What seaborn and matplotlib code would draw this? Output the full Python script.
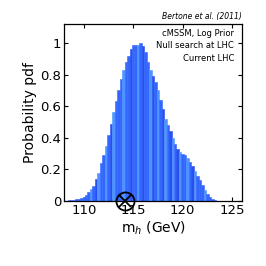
import numpy as np
import pandas as pd
import seaborn as sns
import matplotlib
matplotlib.use('Agg')
import matplotlib.pyplot as plt

# Higgs mass bins (GeV) and normalised posterior pdf
mh = [108.5, 108.75, 109.0, 109.25, 109.5, 109.75, 110.0, 110.25, 110.5, 110.75,
      111.0, 111.25, 111.5, 111.75, 112.0, 112.25, 112.5, 112.75, 113.0, 113.25,
      113.5, 113.75, 114.0, 114.25, 114.5, 114.75, 115.0, 115.25, 115.5, 115.75,
      116.0, 116.25, 116.5, 116.75, 117.0, 117.25, 117.5, 117.75, 118.0, 118.25,
      118.5, 118.75, 119.0, 119.25, 119.5, 119.75, 120.0, 120.25, 120.5, 120.75,
      121.0, 121.25, 121.5, 121.75, 122.0, 122.25, 122.5, 122.75, 123.0, 123.25,
      123.5, 123.75]
pdf = [0.005, 0.006, 0.008, 0.010, 0.014, 0.020, 0.028, 0.040, 0.055, 0.075,
       0.095, 0.14, 0.18, 0.24, 0.29, 0.35, 0.42, 0.49, 0.56, 0.63,
       0.70, 0.77, 0.83, 0.88, 0.92, 0.96, 0.99, 0.99, 0.99, 1.00,
       0.98, 0.94, 0.88, 0.83, 0.79, 0.75, 0.70, 0.64, 0.58, 0.52,
       0.48, 0.44, 0.40, 0.36, 0.33, 0.31, 0.30, 0.29, 0.27, 0.245,
       0.22, 0.19, 0.16, 0.13, 0.10, 0.07, 0.045, 0.028, 0.015, 0.007,
       0.003, 0.001]

# stripes seen in the fill (bin centres)
light_bins = [110.75, 111.5, 112.25, 113.0, 114.0, 115.5, 116.75, 117.5, 118.25,
              119.0, 119.75, 120.5, 121.25, 122.25]
dark_bins = [111.25, 112.75, 114.75, 116.0, 117.0, 118.0, 118.75, 119.5, 121.0]

lep_limit = 114.2

df = pd.DataFrame({'mh': mh, 'pdf': pdf})

sns.set_style('ticks')
plt.rcParams['font.family'] = ['DejaVu Sans']
plt.rcParams['text.color'] = 'black'
plt.rcParams['axes.labelcolor'] = 'black'
plt.rcParams['xtick.color'] = 'black'
plt.rcParams['ytick.color'] = 'black'

fig = plt.figure(figsize=(2.66, 2.66), dpi=100)
ax = fig.add_axes([0.2406, 0.2444, 0.6692, 0.6654])

edges = (np.array(mh) - 0.125).tolist() + [mh[-1] + 0.125]
sns.histplot(data=df, x='mh', weights='pdf', bins=edges,
             color='#3366ff', alpha=1, linewidth=0, ax=ax)

for p in ax.patches:
    c = p.get_x() + p.get_width() / 2
    if any(abs(c - b) < 0.01 for b in light_bins):
        col = '#4d94ff'
    elif any(abs(c - b) < 0.01 for b in dark_bins):
        col = '#2750ee'
    else:
        col = '#3366ff'
    p.set_facecolor(col)
    p.set_edgecolor(col)
    p.set_linewidth(0.4)

ax.plot(lep_limit, 0, marker='o', markersize=13, mfc='none', mec='black',
        mew=1.3, clip_on=False, zorder=5)
ax.plot(lep_limit, 0, marker='x', markersize=8, color='black',
        mew=1.3, clip_on=False, zorder=5)

ax.set_xlim(108, 126)
ax.set_ylim(0, 1.12)
ax.set_xticks([110, 115, 120, 125])
ax.set_yticks([0, 0.2, 0.4, 0.6, 0.8, 1])
ax.set_yticklabels(['0', '0.2', '0.4', '0.6', '0.8', '1'])
ax.tick_params(direction='in', top=True, right=True, length=3, width=0.8,
               labelsize=9.5, pad=2)
for s in ax.spines.values():
    s.set_linewidth(0.9)
    s.set_color('black')

ax.set_xlabel('m$_h$ (GeV)', fontsize=10, labelpad=2)
ax.set_ylabel('Probability pdf', fontsize=10, labelpad=2)

ax.text(1.0, 1.015, 'Bertone et al. (2011)', transform=ax.transAxes,
        ha='right', va='bottom', fontsize=5.5, style='italic')
ax.text(0.955, 0.97, 'cMSSM, Log Prior\nNull search at LHC\nCurrent LHC',
        transform=ax.transAxes, ha='right', va='top', fontsize=6,
        linespacing=1.45)

fig.savefig('out.png', dpi=100)
